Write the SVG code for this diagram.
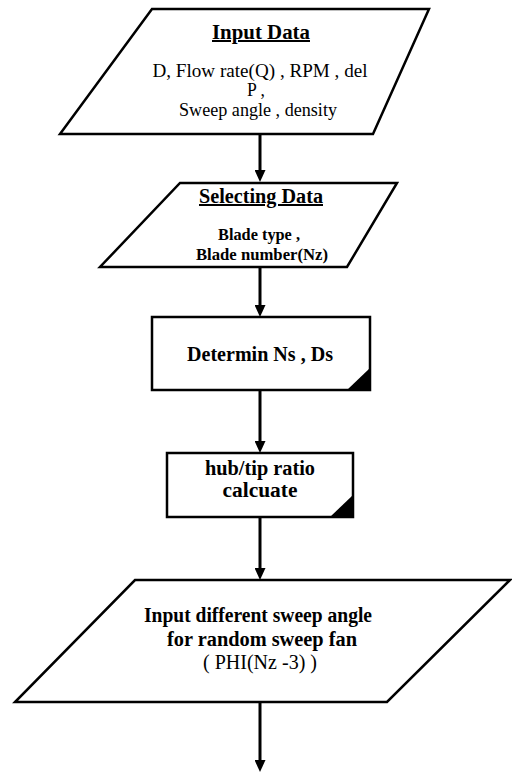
<svg xmlns="http://www.w3.org/2000/svg" width="512" height="772" viewBox="0 0 512 772">
<style>
.shape{fill:#fff;stroke:#000;stroke-width:2.5;stroke-linejoin:miter}
.corner{fill:#000}
.t{font-family:"Liberation Serif","Times New Roman",serif;font-size:20px;fill:#000;text-anchor:middle}
.m{font-size:18.5px}
.s{font-size:16.5px}
.b{font-weight:bold}
.u{text-decoration:underline}
.conn{stroke:#000;stroke-width:3;fill:none}
</style>
<defs>
<marker id="ah" viewBox="0 0 12 11" refX="2" refY="5.5" markerWidth="12" markerHeight="11" markerUnits="userSpaceOnUse" orient="auto">
<path d="M0,0 L12,5.5 L0,11 z" fill="#000"/>
</marker>
</defs>
<rect width="512" height="772" fill="#fff"/>
<g id="connectors">
<line class="conn" x1="260" y1="134" x2="260" y2="172" marker-end="url(#ah)"/>
<line class="conn" x1="260" y1="267" x2="260" y2="307" marker-end="url(#ah)"/>
<line class="conn" x1="260" y1="390" x2="260" y2="443" marker-end="url(#ah)"/>
<line class="conn" x1="260" y1="517" x2="260" y2="570" marker-end="url(#ah)"/>
<line class="conn" x1="260" y1="702" x2="260" y2="762" marker-end="url(#ah)"/>
</g>
<g id="input-data">
<polygon class="shape" points="152,9 429,9 373,134 60,134"/>
<text class="t b u" x="261" y="39" textLength="98" lengthAdjust="spacingAndGlyphs">Input Data</text>
<text class="t m" x="260" y="77" textLength="215" lengthAdjust="spacingAndGlyphs">D, Flow rate(Q) , RPM , del</text>
<text class="t m" x="256" y="96" textLength="18" lengthAdjust="spacingAndGlyphs">P ,</text>
<text class="t m" x="258" y="116" textLength="158" lengthAdjust="spacingAndGlyphs">Sweep angle , density</text>
</g>
<g id="selecting-data">
<polygon class="shape" points="180,183 397,183 347,267 100,267"/>
<text class="t b u" x="261" y="203" textLength="124" lengthAdjust="spacingAndGlyphs">Selecting Data</text>
<text class="t s b" x="259" y="240" textLength="82" lengthAdjust="spacingAndGlyphs">Blade type ,</text>
<text class="t s b" x="262" y="260" textLength="132" lengthAdjust="spacingAndGlyphs">Blade number(Nz)</text>
</g>
<g id="determin">
<rect class="shape" x="152" y="317" width="218" height="73"/>
<polygon class="corner" points="347,390 370,390 370,368"/>
<text class="t b" x="260" y="361" textLength="146" lengthAdjust="spacingAndGlyphs">Determin Ns , Ds</text>
</g>
<g id="hub-tip">
<rect class="shape" x="167" y="453" width="186" height="64"/>
<polygon class="corner" points="330,517 353,517 353,495"/>
<text class="t b" x="260" y="475" textLength="110" lengthAdjust="spacingAndGlyphs">hub/tip ratio</text>
<text class="t b" x="260" y="497" textLength="75" lengthAdjust="spacingAndGlyphs">calcuate</text>
</g>
<g id="sweep-input">
<polygon class="shape" points="135,580 510,580 387,702 15,702"/>
<text class="t b" x="258" y="622" textLength="228" lengthAdjust="spacingAndGlyphs">Input different sweep angle</text>
<text class="t b" x="262" y="646" textLength="190" lengthAdjust="spacingAndGlyphs">for random sweep fan</text>
<text class="t" x="260" y="669" textLength="114" lengthAdjust="spacingAndGlyphs">( PHI(Nz -3) )</text>
</g>
</svg>
